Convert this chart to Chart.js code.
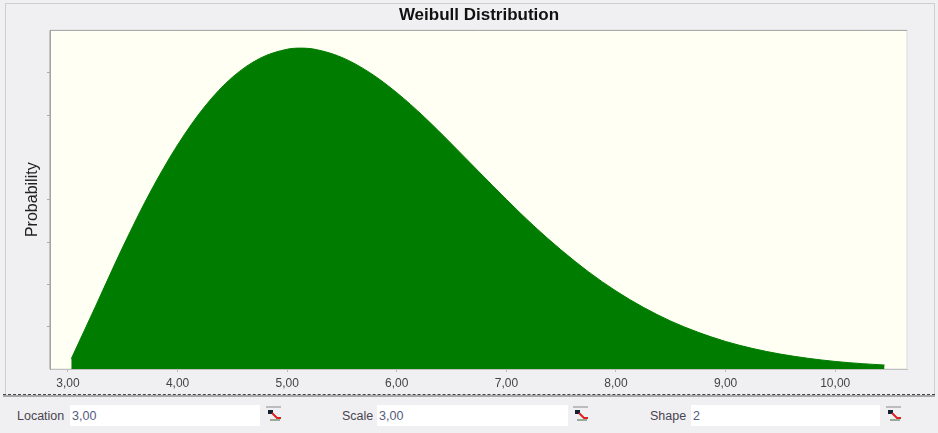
<!DOCTYPE html>
<html>
<head>
<meta charset="utf-8">
<script src="https://cdn.jsdelivr.net/npm/chart.js@4"></script>
<style>
  html, body { margin: 0; padding: 0; background: #fff; }
  #wrap { position: relative; width: 938px; height: 433px; overflow: hidden; background: #f0f0f2; filter: blur(0.7px); font-family: "Liberation Sans", Arial, sans-serif; }
  #frame { position: absolute; left: 5px; top: 3px; width: 928px; height: 391px; border: 1px solid #cfcfcf; border-bottom: none; }
  #sep { position: absolute; left: 3px; top: 394px; width: 932px; border-top: 1px dashed #444; border-bottom: 2px solid #a8a8a8; }
  canvas { position: absolute; left: 0; top: 0; }
  .lbl { position: absolute; top: 409px; font-size: 12.5px; line-height: 14px; color: #4a4450; }
  .box { position: absolute; top: 405px; height: 21px; background: #fff; font-size: 12.5px; line-height: 22px; padding-left: 2px; box-sizing: border-box; color: #555a80; }
  .btn { position: absolute; top: 406px; width: 18px; height: 17px; }
</style>
</head>
<body>
<div id="wrap">
  <div id="frame"></div>
  <div style="position:absolute;left:0;top:0;width:938px;height:395px"><canvas id="grafico" width="938" height="395"></canvas></div>
  <div id="sep"></div>

  <span class="lbl" style="left:17px">Location</span>
  <div class="box" style="left:70px;width:190px">3,00</div>
  <svg class="btn" style="left:265px"><use href="#ico"/></svg>

  <span class="lbl" style="left:342px">Scale</span>
  <div class="box" style="left:377px;width:191px">3,00</div>
  <svg class="btn" style="left:572px"><use href="#ico"/></svg>

  <span class="lbl" style="left:650px">Shape</span>
  <div class="box" style="left:691px;width:189px">2</div>
  <svg class="btn" style="left:885px"><use href="#ico"/></svg>

  <svg width="0" height="0" style="position:absolute">
    <g id="ico">
      <path d="M1 1H16" stroke="#888" stroke-width="1"/>
      <rect x="3" y="4" width="5" height="4" fill="#123"/>
      <path d="M7 7L12 12H16" stroke="#d22" stroke-width="2" fill="none"/>
      <path d="M5 14H15" stroke="#9a9" stroke-width="2"/>
    </g>
  </svg>
</div>

<script>
// Valores
const valoresX = [3.03, 3.25, 3.5, 3.75, 4, 4.25, 4.5, 4.75, 5, 5.12, 5.25, 5.5, 5.75, 6, 6.25, 6.5, 6.75, 7, 7.25, 7.5, 7.75, 8, 8.25, 8.5, 8.75, 9, 9.25, 9.5, 9.75, 10, 10.25, 10.45];
const valoresY = [0.009, 0.0552, 0.108, 0.1566, 0.1985, 0.2328, 0.2585, 0.2752, 0.2833, 0.2843, 0.2833, 0.276, 0.2628, 0.2448, 0.2233, 0.1994, 0.1747, 0.1502, 0.1268, 0.1054, 0.086, 0.0691, 0.0546, 0.0424, 0.0325, 0.0244, 0.0181, 0.0132, 0.0095, 0.0067, 0.0047, 0.0035];
const ticksX = [3, 4, 5, 6, 7, 8, 9, 10];
const ticksY = [0.0375, 0.075, 0.1125, 0.15, 0.225, 0.2625];

const pontos = valoresX.map((x, i) => ({ x: x, y: valoresY[i] }));

// Fundo e moldura da area do grafico
const fundoPlot = {
  id: 'fundoPlot',
  beforeDraw(chart) {
    const { ctx, chartArea: a } = chart;
    ctx.save();
    ctx.fillStyle = '#fffff3';
    ctx.fillRect(a.left, a.top, a.width, a.height);
    ctx.strokeStyle = '#dcdcdc';
    ctx.strokeRect(a.left, a.top, a.width, a.height);
    ctx.strokeStyle = '#a4a4a8';
    ctx.beginPath();
    ctx.moveTo(a.left, a.bottom);
    ctx.lineTo(a.left, a.top);
    ctx.lineTo(a.right, a.top);
    ctx.stroke();
    ctx.restore();
  }
};

new Chart(document.getElementById('grafico'), {
  type: 'scatter',
  data: {
    datasets: [{
      label: 'Probability',
      data: pontos,
      showLine: true,
      fill: 'origin',
      borderColor: '#007d00',
      backgroundColor: '#007d00',
      borderWidth: 1,
      pointRadius: 0,
      cubicInterpolationMode: 'monotone'
    }]
  },
  options: {
    responsive: false,
    animation: false,
    layout: { padding: { left: 20 } },
    plugins: {
      legend: { display: false },
      tooltip: { enabled: false },
      title: {
        display: true,
        text: 'Weibull Distribution',
        color: '#111',
        font: { family: '"Liberation Sans"', size: 17, weight: 'bold' },
        padding: { top: 5, bottom: 5 }
      }
    },
    scales: {
      x: {
        type: 'linear',
        min: 2.836,
        max: 10.655,
        afterBuildTicks: s => { s.ticks = ticksX.map(v => ({ value: v })); },
        afterFit: s => { s.height = 26; },
        grid: { drawOnChartArea: false, drawTicks: true, tickLength: 3, color: '#bbb' },
        border: { color: '#c0c0c0' },
        ticks: {
          autoSkip: false,
          maxRotation: 0,
          padding: 4,
          color: '#444',
          font: { family: '"Liberation Sans"', size: 12 },
          callback: v => v.toFixed(2).replace('.', ',')
        }
      },
      y: {
        min: 0,
        max: 0.3,
        afterBuildTicks: s => { s.ticks = ticksY.map(v => ({ value: v })); },
        afterFit: s => { s.width = 30; },
        grid: { drawOnChartArea: false, drawTicks: true, tickLength: 3, color: '#aaa' },
        border: { color: '#a4a4a8' },
        title: {
          display: true,
          text: 'Probability',
          color: '#222',
          font: { family: '"Liberation Sans"', size: 16 },
          padding: { top: 3, bottom: 0 }
        },
        ticks: { callback: () => '' }
      },
      // eixo vazio so para reservar a margem direita
      margem: {
        position: 'right',
        afterFit: s => { s.width = 31; },
        grid: { display: false },
        border: { display: false },
        ticks: { display: false }
      }
    }
  },
  plugins: [fundoPlot]
});
</script>
</body>
</html>
